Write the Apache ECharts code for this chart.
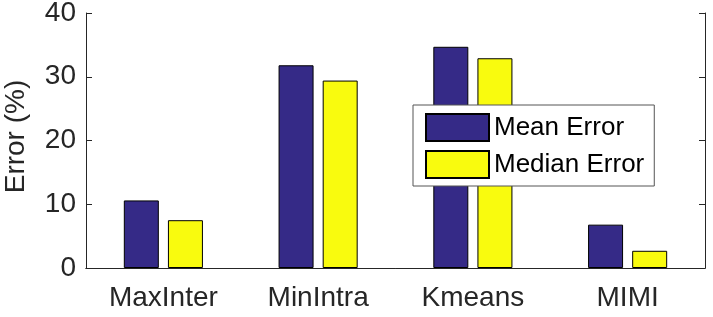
<!DOCTYPE html>
<html>
<head>
<meta charset="utf-8">
<script src="https://cdn.jsdelivr.net/npm/echarts@6/dist/echarts.min.js"></script>
<style>
html, body { margin: 0; padding: 0; background: #fff; }
#main { width: 713px; height: 317px; }
</style>
</head>
<body>
<div id="main"></div>
<script>
var categories = ['MaxInter', 'MinIntra', 'Kmeans', 'MIMI'];
var meanError = [10.6, 31.8, 34.7, 6.8];
var medianError = [7.5, 29.4, 32.9, 2.7];
var yTicks = [0, 10, 20, 30, 40];

var myChart = echarts.init(document.getElementById('main'));
var axisColor = '#262626';
var font = 'Liberation Sans, Arial, sans-serif';
var option = {
    animation: false,
    textStyle: {fontFamily: font},
    grid: {left: 86, right: 8, top: 13, bottom: 49, outerBoundsMode: 'none', containLabel: false},
    legend: {
        orient: 'vertical',
        left: 413,
        top: 105,
        padding: [8, 10, 7, 12],
        itemWidth: 63,
        itemHeight: 27,
        itemGap: 8,
        icon: 'rect',
        backgroundColor: '#fff',
        borderColor: '#555',
        borderWidth: 1,
        borderRadius: 0,
        textStyle: {fontSize: 26, color: '#000', fontFamily: font},
        data: ['Mean Error', 'Median Error']
    },
    xAxis: [{
        type: 'category',
        data: categories,
        axisLine: {lineStyle: {color: axisColor, width: 1}},
        axisTick: {inside: true, alignWithLabel: true, length: 5, lineStyle: {color: axisColor}},
        axisLabel: {fontSize: 28, color: axisColor, margin: 16}
    }, {
        type: 'category',
        position: 'top',
        data: categories,
        axisLine: {show: true, lineStyle: {color: axisColor, width: 1}},
        axisTick: {inside: true, alignWithLabel: true, length: 5, lineStyle: {color: axisColor}},
        axisLabel: {show: false}
    }],
    yAxis: [{
        type: 'value',
        min: yTicks[0],
        max: yTicks[yTicks.length - 1],
        interval: 10,
        name: 'Error (%)',
        nameLocation: 'middle',
        nameGap: 56,
        nameTextStyle: {fontSize: 28, color: axisColor, padding: [0, 0, 0, 8]},
        axisLine: {show: true, lineStyle: {color: axisColor, width: 1}},
        axisTick: {show: true, inside: true, length: 6, lineStyle: {color: axisColor}},
        axisLabel: {fontSize: 28, color: axisColor, margin: 10},
        splitLine: {show: false}
    }, {
        type: 'value',
        position: 'right',
        min: yTicks[0],
        max: yTicks[yTicks.length - 1],
        interval: 10,
        axisLine: {show: true, lineStyle: {color: axisColor, width: 1}},
        axisTick: {show: true, inside: true, length: 6, lineStyle: {color: axisColor}},
        axisLabel: {show: false},
        splitLine: {show: false}
    }],
    series: [{
        name: 'Mean Error',
        type: 'bar',
        data: meanError,
        barWidth: 35,
        barGap: '26%',
        itemStyle: {color: '#352a87', borderColor: '#000', borderWidth: 1}
    }, {
        name: 'Median Error',
        type: 'bar',
        data: medianError,
        barWidth: 35,
        barGap: '26%',
        itemStyle: {color: '#f9fb0e', borderColor: '#000', borderWidth: 1}
    }]
};
myChart.setOption(option);
</script>
</body>
</html>
